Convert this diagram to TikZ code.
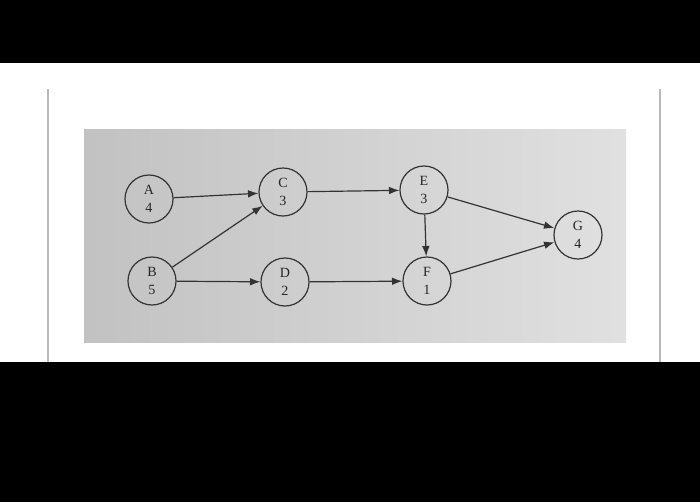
\documentclass[tikz,border=0pt]{standalone}
\usepackage{fontspec}
\setmainfont{Liberation Serif}
\usetikzlibrary{
  positioning,
  arrows.meta
}

\begin{document}
\begin{tikzpicture}[x=0.025cm, y=-0.025cm,
    event/.style={circle, draw=black!80, line width=0.85pt, minimum size=1.2cm, inner sep=0pt,
      align=center, font=\fontsize{10}{11.5}\selectfont, text=black!85},
    link/.style={-{Latex[length=2.6mm, width=1.9mm]}, draw=black!80, line width=0.85pt}]
      % Photo frame
      \useasboundingbox (0,0) rectangle (700,502);
      \fill[black] (0,0) rectangle (700,502);
      \fill[white] (0,63) rectangle (700,362);
      \draw[gray!55, line width=0.8pt] (48,89) -- (48,362);
      \draw[gray!55, line width=0.8pt] (660,89) -- (660,362);
      \shade[left color=black!24, middle color=black!13, right color=black!12] (84,129) rectangle (626,342);

      % Events
      \node[event] (A) at (149,199) {A\\[1pt]4};
      \node[event] (B) at (152,281) {B\\[1pt]5};
      \node[event] (C) at (283,192) {C\\[1pt]3};
      \node[event] (D) at (285,282) {D\\[1pt]2};
      \node[event] (E) at (424,190) {E\\[1pt]3};
      \node[event] (F) at (427,281) {F\\[1pt]1};
      \node[event] (G) at (578,235) {G\\[1pt]4};

      % Precedence links
      \draw[link] (A) -- (C);
      \draw[link] (B) -- (C);
      \draw[link] (B) -- (D);
      \draw[link] (C) -- (E);
      \draw[link] (D) -- (F);
      \draw[link] (E) -- (F);
      \draw[link] (E) -- (G);
      \draw[link] (F) -- (G);
\end{tikzpicture}
\end{document}
